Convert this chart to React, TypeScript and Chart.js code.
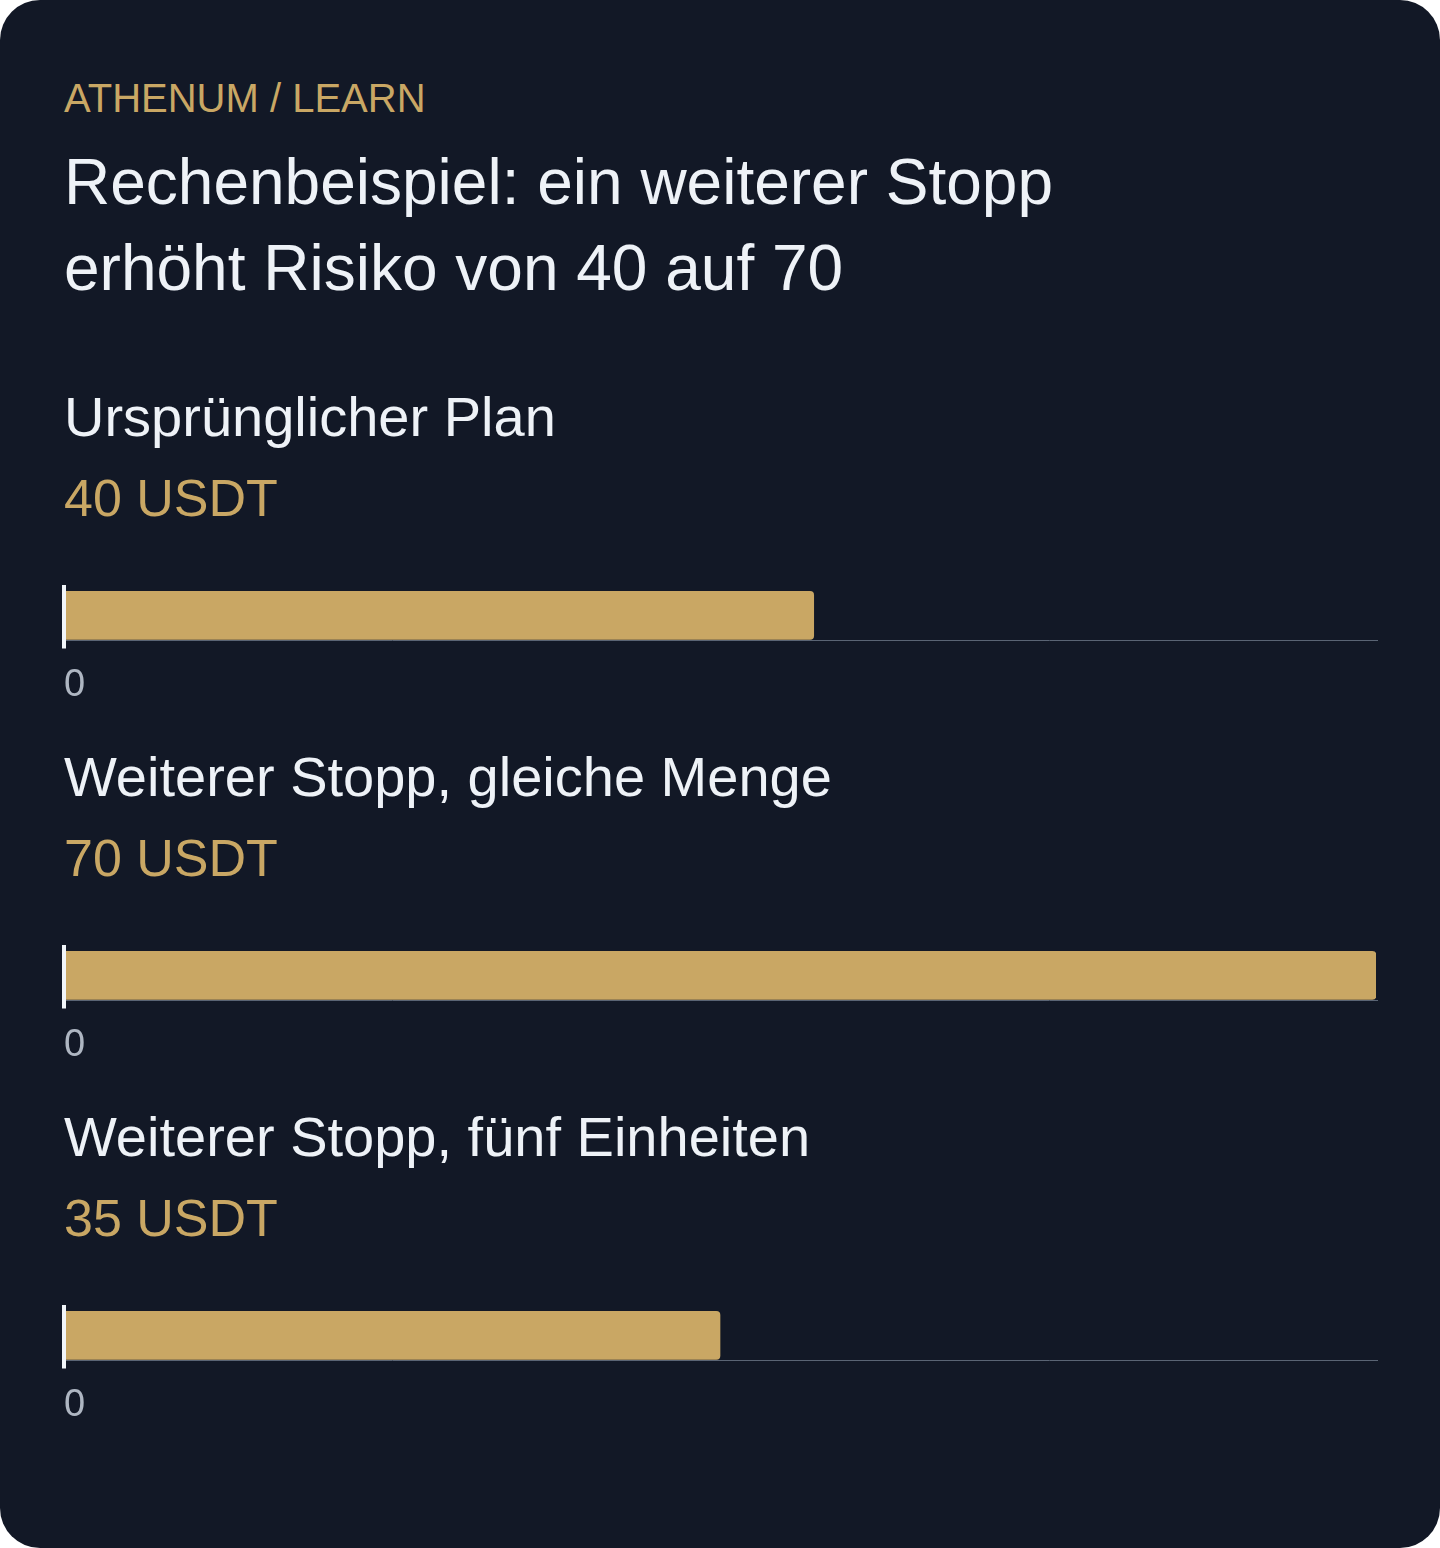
import React, { useEffect, useRef } from 'react';
import { Chart, registerables } from 'chart.js';

Chart.register(...registerables);

// ---- data ----
const eyebrow = 'ATHENUM / LEARN';
const titleLines = ['Rechenbeispiel: ein weiterer Stopp', 'erhöht Risiko von 40 auf 70'];
const categories = ['Ursprünglicher Plan', 'Weiterer Stopp, gleiche Menge', 'Weiterer Stopp, fünf Einheiten'];
const riskValues = [40, 70, 35];
const unit = 'USDT';
const tickLabels = ['0'];
const axisMax = 70;

// ---- styles ----
const FONT = '"Liberation Sans", Arial, Helvetica, sans-serif';
const BG = '#121826';
const GOLD = '#c9a764';
const TEXT = '#eef2f7';
const MUTED = '#aeb6c2';
const AXIS = '#5a6474';
const ZERO = '#f1f5f9';

const TICK_PAD = 27;
const CANVAS_W = 1312 + TICK_PAD * 2;
const CANVAS_H = 111;

function BarRow({ label, value }: { label: string; value: number }) {
  const ref = useRef<HTMLCanvasElement | null>(null);

  useEffect(() => {
    if (!ref.current) return;
    const chart = new Chart(ref.current, {
      type: 'bar',
      data: {
        labels: [label],
        datasets: [
          {
            label,
            data: [{ x: value, y: 0 }],
            backgroundColor: GOLD,
            borderRadius: 4,
            borderSkipped: 'start',
            barThickness: 48,
          },
        ],
      },
      options: {
        indexAxis: 'y',
        animation: false,
        responsive: false,
        maintainAspectRatio: false,
        layout: { padding: 0 },
        plugins: {
          legend: { display: false },
          tooltip: { enabled: false },
        },
        scales: {
          x: {
            type: 'linear',
            min: 0,
            max: axisMax,
            border: { display: true, color: AXIS, width: 1 },
            grid: {
              drawOnChartArea: false,
              drawTicks: true,
              tickLength: 8,
              lineWidth: (ctx: any) => (ctx.tick && ctx.tick.value === 0 ? 4 : 1),
              color: (ctx: any) => (ctx.tick && ctx.tick.value === 0 ? ZERO : 'rgba(0,0,0,0)'),
            },
            ticks: {
              align: 'start',
              padding: TICK_PAD,
              maxRotation: 0,
              autoSkip: false,
              color: MUTED,
              font: { family: FONT, size: 38, lineHeight: '20px' },
              callback: (v: any) => (tickLabels.includes(String(v)) ? String(v) : ''),
            },
          },
          y: {
            type: 'linear',
            min: -3,
            max: 4,
            border: { display: true, color: ZERO, width: 4, z: 1 },
            grid: { display: false, drawTicks: false },
            ticks: { display: false },
          },
        },
      } as any,
    });
    return () => chart.destroy();
  }, [label, value]);

  return (
    <canvas
      ref={ref}
      width={CANVAS_W}
      height={CANVAS_H}
      style={{ display: 'block', width: CANVAS_W, height: CANVAS_H, marginLeft: -TICK_PAD, marginTop: 55 }}
    />
  );
}

export default function App() {
  return (
    <div
      style={{
        position: 'absolute',
        left: 0,
        top: 0,
        width: 1440,
        height: 1548,
        boxSizing: 'border-box',
        padding: '74px 64px 0 64px',
        borderRadius: 40,
        background: BG,
        fontFamily: FONT,
        overflow: 'hidden',
      }}
    >
      <div style={{ fontSize: 40, lineHeight: '48px', color: GOLD }}>{eyebrow}</div>
      <div style={{ marginTop: 17, fontSize: 64, lineHeight: '86px', color: TEXT }}>
        {titleLines.map((t) => (
          <div key={t}>{t}</div>
        ))}
      </div>
      <div style={{ marginTop: 72 }}>
        {categories.map((c, i) => (
          <div key={c} style={{ height: 360 }}>
            <div style={{ fontSize: 56, lineHeight: '68px', color: TEXT }}>{c}</div>
            <div style={{ marginTop: 15, fontSize: 52, lineHeight: '64px', color: GOLD }}>
              {riskValues[i]} {unit}
            </div>
            <BarRow label={c} value={riskValues[i]} />
          </div>
        ))}
      </div>
    </div>
  );
}
